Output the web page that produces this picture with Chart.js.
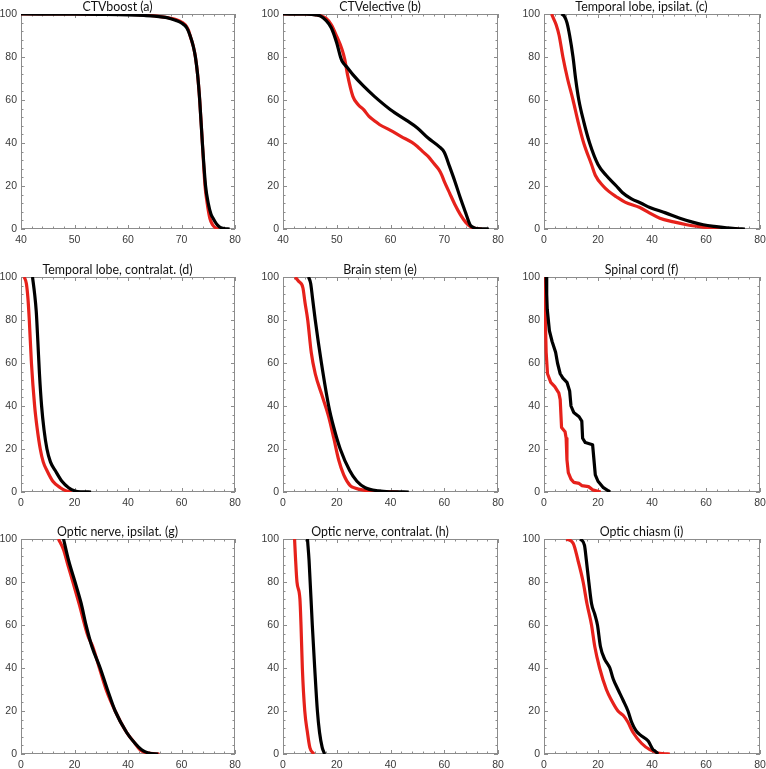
<!DOCTYPE html>
<html><head><meta charset="utf-8">
<script src="https://cdn.jsdelivr.net/npm/chart.js@4.4.1/dist/chart.umd.min.js"></script>
<style>
html,body{margin:0;padding:0;background:#fff;width:766px;height:769px;overflow:hidden;position:relative}
canvas{position:absolute}
</style></head><body>
<script>
// ---------- data (dose in Gy, volume in %) ----------
const titles = ['CTVboost (a)','CTVelective (b)','Temporal lobe, ipsilat. (c)','Temporal lobe, contralat. (d)','Brain stem (e)','Spinal cord (f)','Optic nerve, ipsilat. (g)','Optic nerve, contralat. (h)','Optic chiasm (i)'];
const xTicksAB = [40,50,60,70,80];
const xTicksOther = [0,20,40,60,80];
const yTicks = [0,20,40,60,80,100];

const aBlackX = [40,50,55,60,63,65,67,68,69,70,71,71.6,72.2,72.6,73,73.4,73.9,74.5,75,75.5,75.9,76.5,77,77.5,78,79];
const aBlackY = [100,99.9,99.8,99.6,99.3,99,98.4,97.8,97,95.8,93.5,90,85,80,72,60,40,20,12,7,5,2.5,1.2,0.5,0.2,0];
const aRedX = [40,50,55,60,63,65.3,67,68,69.4,70.7,71.3,71.6,72.2,72.6,73,73.4,73.9,74.4,74.8,75.3,75.8,76.5,77];
const aRedY = [100,100,99.9,99.8,99.6,99,98.5,98,97,95,92.5,90,85,80,72,60,40,20,12,5,2,0.3,0];

const bBlackX = [40,44,46,47,48,49,50,50.7,51,52,53,55,57,60,63,65,67,69,70,71,72,73,74,74.8,75.5,76,77,78.3];
const bBlackY = [100,99.9,99.6,99,97,93.5,86.5,80,78,75,71.8,66.4,61.7,55.5,50.5,47,42.3,38.4,35.7,29,22,14.4,7.4,2,0.6,0.2,0.1,0];
const bRedX = [40,44,46,47,48,49,50,51,51.5,52,53,54,55,56,57,58,60,62,64,65,66,67,68,69,69.5,70,71,72,73,74,75,76,77];
const bRedY = [100,100,99.7,99.2,98,95,89.6,83.4,78.8,71.8,61.7,57.8,55.5,52.4,50.4,48.5,45.9,43,40.3,38.4,36,33.8,30.7,27.6,25.3,22.2,16.7,11.3,6.7,3.1,0.9,0.2,0];

const cBlackX = [6.5,7.5,8.5,9.5,10.75,11.7,12.9,14.7,16.9,20,23,26.8,29,32.4,36,39.2,45,50.3,55,59,63,67.6,71,74.4];
const cBlackY = [100,99,96,90,80,70,60,50,40,30,25,20,17,14,12,10,7.5,5,3.2,2,1.2,0.5,0.2,0];
const cRedX = [2.8,3.5,4.5,5.6,7,8.7,10.75,12.6,14.7,17.6,19,21.9,24,26.8,30,35.5,39,42.9,48,52.8,57,61.4,66,72];
const cRedY = [100,98,95,90,80,70,60,50,40,30,25,20,17.5,15,12.5,10,7.5,5,3.3,2,1.2,0.5,0.2,0];

const dBlackX = [4.3,5.1,5.7,6.3,6.9,7.7,8.6,9.7,11,12.8,15.3,17.8,20.2,22.5,26.2];
const dBlackY = [100,92,84,70,55,40,29,20,14,10,5,2,0.5,0.1,0];
const dRedX = [1.2,2,2.6,3.1,3.9,5.1,6,7.2,8.3,9.7,11.9,14.7,17,19];
const dRedY = [100,97,90,80,60,40,30,20,14,10,5,2,0.5,0];

const eBlackX = [9.5,10.3,11,12,14.3,17,18.9,21.3,24.8,27.5,30.6,35.6,40,46.8];
const eBlackY = [100,97,90,80,60,40,30,20,10,5,2,0.5,0.1,0];
const eRedX = [4.5,5.8,7.4,8.2,9.2,10.5,12,14.5,17,18.9,20.7,22.6,25,27,29.4,34.4,38,43];
const eRedY = [100,98,95,88,80,65,55,45,35,25,15,8,3,1.8,1,0.2,0.1,0];

const fBlackX = [0.8,1,1.2,2,3,4.3,5,6,7,8.5,9.5,10,11,13,14,14.3,15.3,18,18.5,19,20,22,24.5];
const fBlackY = [100,92,85,75,70,65,60,55,53,51,47,40,37,35,33,25,23,22,15,8,5,2,0];
const fRedX = [0.3,0.5,0.8,1.3,2.5,4,5.5,6,6.5,7.8,8.2,8.5,9,10,11,13,14,16.5,18,21];
const fRedY = [100,80,65,55,51,49,46,43,30,28,25,15,9,6,4.5,4,3,2.5,1,0];

const gBlackX = [15.9,17.8,20.2,22.5,24.3,26.5,29.6,32.3,35.2,39.5,42.6,45.1,47.6,51.3];
const gBlackY = [100,90,80,70,60,50,40,30,20,10,5,2,0.5,0];
const gRedX = [14,15.9,17.5,19.4,21.7,25,26.8,29.3,31.8,35.2,39.5,42.6,44.5,47,51.7];
const gRedY = [100,95,88,80,70,55,50,40,30,20,10,5,2,0.5,0];

const hBlackX = [9.1,9.7,10.9,11.8,12.8,13.6,14.6,15.5];
const hBlackY = [100,90,60,40,20,10,3,0];
const hRedX = [4.3,4.7,5.2,6.3,6.7,7.2,8.1,9.1,10,11.5];
const hRedY = [100,90,80,72,60,40,20,10,3,0];

const iBlackX = [13.5,15,15.7,16.6,17.6,18.8,19.8,20.9,22.5,23.5,24.4,25.6,27.4,29.3,31.1,32.4,34,35.5,38.6,40.4,41,42.3];
const iBlackY = [100,97,90,80,70,65,60,50,44,42,40,35,30,25,20,15,11,9,6,2,1.5,0];
const iRedX = [8.3,10.8,12.6,14.5,15.9,17.6,18.8,20.6,23.1,25,27.4,29.3,31,33,36.1,39.2,42.3,44,46.6];
const iRedY = [100,98,90,80,70,60,50,40,30,25,20,18,15,10,5,2,0.5,0.2,0];

// ---------- layout ----------
const plotLeft = [21,283,544], plotW = [214,215,216];
const plotTop = [14,277,539], plotH = 215;
const Y_AXIS_W = 21, TITLE_H = 16, X_AXIS_H = 20;

const panels = [
  {bx:aBlackX,by:aBlackY,rx:aRedX,ry:aRedY,xt:xTicksAB,minor:2,smooth:true},
  {bx:bBlackX,by:bBlackY,rx:bRedX,ry:bRedY,xt:xTicksAB,minor:2,smooth:true},
  {bx:cBlackX,by:cBlackY,rx:cRedX,ry:cRedY,xt:xTicksOther,minor:4,smooth:true},
  {bx:dBlackX,by:dBlackY,rx:dRedX,ry:dRedY,xt:xTicksOther,minor:4,smooth:true},
  {bx:eBlackX,by:eBlackY,rx:eRedX,ry:eRedY,xt:xTicksOther,minor:4,smooth:true},
  {bx:fBlackX,by:fBlackY,rx:fRedX,ry:fRedY,xt:xTicksOther,minor:4,smooth:false},
  {bx:gBlackX,by:gBlackY,rx:gRedX,ry:gRedY,xt:xTicksOther,minor:4,smooth:true},
  {bx:hBlackX,by:hBlackY,rx:hRedX,ry:hRedY,xt:xTicksOther,minor:4,smooth:true},
  {bx:iBlackX,by:iBlackY,rx:iRedX,ry:iRedY,xt:xTicksOther,minor:4,smooth:true}
];

const frameTicks = {
  id:'frameTicks',
  beforeDatasetsDraw(chart, args, opts){
    const {ctx, chartArea:a} = chart;
    const xs = chart.scales.x, ys = chart.scales.y;
    ctx.save();
    ctx.strokeStyle = '#8c8c8c';
    ctx.lineWidth = 1;
    ctx.strokeRect(a.left+0.5, a.top+0.5, a.right-a.left-1, a.bottom-a.top-1);
    ctx.beginPath();
    const xMaj = opts.xMajor, xMin = opts.xMinor;
    for (let v = xs.min; v <= xs.max + 1e-9; v += xMin) {
      const p = Math.round(xs.getPixelForValue(v)) + 0.5;
      const isMaj = Math.abs(((v - xs.min) / xMaj) - Math.round((v - xs.min) / xMaj)) < 1e-6;
      const len = isMaj ? 4 : 2.5;
      ctx.moveTo(p, a.bottom); ctx.lineTo(p, a.bottom - len);
      ctx.moveTo(p, a.top); ctx.lineTo(p, a.top + len);
    }
    for (let v = 0; v <= 100 + 1e-9; v += 4) {
      const p = Math.round(ys.getPixelForValue(v)) + 0.5;
      const isMaj = v % 20 === 0;
      const len = isMaj ? 4 : 2.5;
      ctx.moveTo(a.left, p); ctx.lineTo(a.left + len, p);
      ctx.moveTo(a.right, p); ctx.lineTo(a.right - len, p);
    }
    ctx.stroke();
    ctx.restore();
  }
};

panels.forEach((pn, i) => {
  const col = i % 3, row = Math.floor(i / 3);
  const cv = document.createElement('canvas');
  const w = Y_AXIS_W + plotW[col] + Y_AXIS_W;
  const h = TITLE_H + plotH + X_AXIS_H;
  cv.width = w; cv.height = h;
  cv.style.width = w + 'px'; cv.style.height = h + 'px';
  cv.style.left = (plotLeft[col] - Y_AXIS_W) + 'px';
  cv.style.top = (plotTop[row] - TITLE_H) + 'px';
  document.body.appendChild(cv);
  const mk = (xa, ya) => xa.map((x, k) => ({x: x, y: ya[k]}));
  const lineOpts = pn.smooth ? {cubicInterpolationMode:'monotone'} : {tension:0};
  new Chart(cv, {
    type: 'line',
    data: {
      datasets: [
        Object.assign({label:'black', data: mk(pn.bx, pn.by), borderColor:'#000000', borderWidth:3.2, pointRadius:0, fill:false, borderJoinStyle:'round'}, lineOpts),
        Object.assign({label:'red', data: mk(pn.rx, pn.ry), borderColor:'#e6211b', borderWidth:3.2, pointRadius:0, fill:false, borderJoinStyle:'round'}, lineOpts)
      ]
    },
    options: {
      responsive: false,
      animation: false,
      devicePixelRatio: 1,
      layout: {padding: {left:0, right:Y_AXIS_W, top:0, bottom:0}},
      plugins: {
        legend: {display:false},
        tooltip: {enabled:false},
        title: {display:true, text: titles[i], color:'#111', padding:{top:2,bottom:0},
                font:{family:'Lato', size:12.4, weight:'normal', lineHeight:'14px'}},
        frameTicks: {xMajor: pn.xt[1]-pn.xt[0], xMinor: pn.minor}
      },
      scales: {
        x: {
          type:'linear', min: pn.xt[0], max: pn.xt[pn.xt.length-1],
          afterBuildTicks: (s) => { s.ticks = pn.xt.map(v => ({value:v})); },
          afterFit: (s) => { s.height = X_AXIS_H; },
          grid: {display:false, drawTicks:false},
          border: {display:false},
          ticks: {autoSkip:false, maxRotation:0, padding:5, color:'#3a3a3a', font:{family:'Liberation Sans', size:10.5}}
        },
        y: {
          type:'linear', min:0, max:100,
          afterBuildTicks: (s) => { s.ticks = yTicks.map(v => ({value:v})); },
          afterFit: (s) => { s.width = Y_AXIS_W; },
          grid: {display:false, drawTicks:false},
          border: {display:false},
          ticks: {autoSkip:false, padding:4, color:'#3a3a3a', font:{family:'Liberation Sans', size:10.5}}
        }
      }
    },
    plugins: [frameTicks]
  });
});
</script>
</body></html>
